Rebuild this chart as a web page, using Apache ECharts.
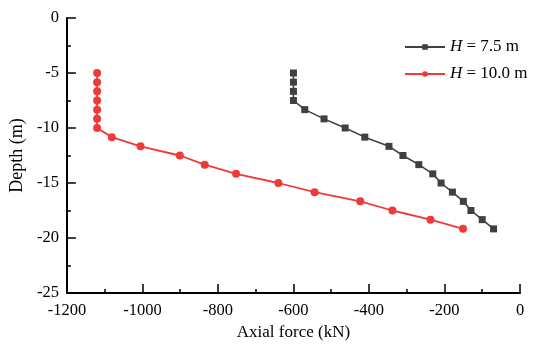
<!DOCTYPE html>
<html>
<head>
<meta charset="utf-8">
<script src="https://cdn.jsdelivr.net/npm/echarts@6/dist/echarts.min.js"></script>
<style>html,body{margin:0;padding:0;background:#fff}#c{width:550px;height:349px}</style>
</head>
<body>
<div id="c"></div>
<script>
// Data
const depth75 = [-5, -5.83, -6.67, -7.5, -8.33, -9.17, -10, -10.83, -11.67, -12.5, -13.33, -14.17, -15, -15.83, -16.67, -17.5, -18.33, -19.17];
const force75 = [-600, -600, -600, -600, -570, -519, -463, -411, -347, -310, -268, -231, -209, -179, -150, -130, -100, -70];
const depth100 = [-5, -5.83, -6.67, -7.5, -8.33, -9.17, -10, -10.83, -11.67, -12.5, -13.33, -14.17, -15, -15.83, -16.67, -17.5, -18.33, -19.17];
const force100 = [-1120, -1120, -1120, -1120, -1120, -1120, -1120, -1081, -1005, -901, -835, -752, -640, -544, -423, -338, -237, -151];
const seriesNames = ['H = 7.5 m', 'H = 10.0 m'];
const xTicks = [-1200, -1000, -800, -600, -400, -200, 0];
const yTicks = [-25, -20, -15, -10, -5, 0];

const font = 'Liberation Serif, Times New Roman, serif';
const chart = echarts.init(document.getElementById('c'), null, {renderer: 'canvas'});
const toPairs = (xs, ys) => xs.map((x, i) => [x, ys[i]]);
const axisCommon = {
  axisLine: {show: true, onZero: false, lineStyle: {color: '#000', width: 2}},
  axisTick: {show: true, inside: true, length: 9, lineStyle: {color: '#000', width: 1.5}},
  minorTick: {show: true, splitNumber: 2, length: 4, lineStyle: {color: '#000', width: 1.5}},
  splitLine: {show: false},
  axisLabel: {color: '#000', fontFamily: font, fontSize: 16.5, formatter: v => String(v)},
  nameTextStyle: {color: '#000', fontFamily: font, fontSize: 17}
};
chart.setOption({
  animation: false,
  backgroundColor: '#fff',
  grid: {left: 63, top: 18, width: 457, height: 275},
  xAxis: Object.assign({}, axisCommon, {
    type: 'value', min: xTicks[0], max: xTicks[xTicks.length - 1], interval: 200,
    name: 'Axial force (kN)', nameLocation: 'middle', nameGap: 30,
    axisLabel: Object.assign({}, axisCommon.axisLabel, {margin: 9})
  }),
  yAxis: Object.assign({}, axisCommon, {
    type: 'value', min: yTicks[0], max: yTicks[yTicks.length - 1], interval: 5,
    name: 'Depth (m)', nameLocation: 'middle', nameGap: 37,
    nameTextStyle: {color: '#000', fontFamily: font, fontSize: 18},
    axisLabel: Object.assign({}, axisCommon.axisLabel, {margin: 8})
  }),
  legend: {
    orient: 'vertical', left: 399, top: 32, itemGap: 7,
    itemWidth: 40, itemHeight: 7,
    textStyle: {color: '#000', fontFamily: font, fontSize: 17, lineHeight: 20,
      rich: {i: {fontStyle: 'italic', fontFamily: font, fontSize: 17, lineHeight: 20, color: '#000'}}},
    formatter: n => n.replace(/^H/, '{i|H}')
  },
  series: [
    {name: seriesNames[0], type: 'line', data: toPairs(force75, depth75),
      symbol: 'rect', symbolSize: 7, color: '#404040',
      lineStyle: {color: '#404040', width: 1.6}, itemStyle: {color: '#404040'}},
    {name: seriesNames[1], type: 'line', data: toPairs(force100, depth100),
      symbol: 'circle', symbolSize: 8, color: '#f03a3a',
      lineStyle: {color: '#f03a3a', width: 1.8}, itemStyle: {color: '#f03a3a'}}
  ]
});
</script>
</body>
</html>
